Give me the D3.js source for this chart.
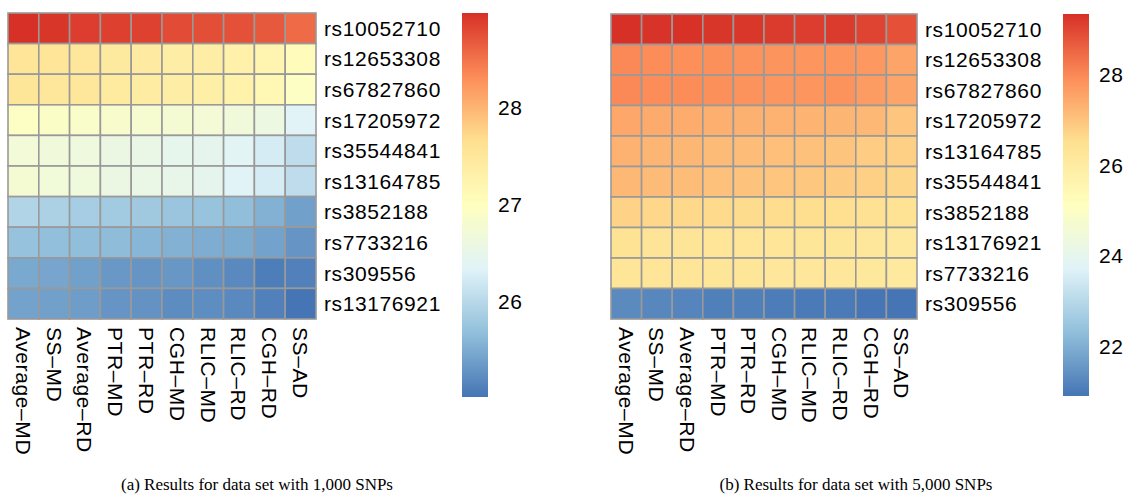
<!DOCTYPE html>
<html>
<head>
<meta charset="utf-8">
<script src="https://cdn.jsdelivr.net/npm/d3@7"></script>
<style>
  html, body { margin: 0; padding: 0; background: #fff; }
  svg { display: block; }
  .lab { font-family: "Liberation Sans", Arial, Helvetica, sans-serif; font-size: 21px; letter-spacing: 0.6px; fill: #000; }
  .cap { font-family: "Liberation Serif", "Times New Roman", serif; font-size: 17px; fill: #000; }
</style>
</head>
<body>
<svg id="chart" width="1126" height="497"></svg>
<script>
// Method labels (columns) for each panel
const methodsA = ["Average–MD", "SS–MD", "Average–RD", "PTR–MD", "PTR–RD", "CGH–MD", "RLIC–MD", "RLIC–RD", "CGH–RD", "SS–AD"];
const methodsB = ["Average–MD", "SS–MD", "Average–RD", "PTR–MD", "PTR–RD", "CGH–MD", "RLIC–MD", "RLIC–RD", "CGH–RD", "SS–AD"];

// SNP labels (rows)
const snpsA = ["rs10052710", "rs12653308", "rs67827860", "rs17205972", "rs35544841", "rs13164785", "rs3852188", "rs7733216", "rs309556", "rs13176921"];
const snpsB = ["rs10052710", "rs12653308", "rs67827860", "rs17205972", "rs13164785", "rs35544841", "rs3852188", "rs13176921", "rs7733216", "rs309556"];

// Scores, one row per SNP, one value per method — data set with 1,000 SNPs
const valuesA = [
  [28.97, 28.93, 28.88, 28.86, 28.85, 28.78, 28.76, 28.74, 28.68, 28.55],
  [27.55, 27.55, 27.52, 27.45, 27.42, 27.38, 27.36, 27.30, 27.20, 27.05],
  [27.53, 27.52, 27.50, 27.43, 27.40, 27.36, 27.33, 27.28, 27.15, 26.95],
  [26.95, 26.90, 26.87, 26.84, 26.80, 26.76, 26.74, 26.68, 26.60, 26.35],
  [26.72, 26.68, 26.65, 26.58, 26.55, 26.48, 26.45, 26.38, 26.25, 26.05],
  [26.76, 26.70, 26.66, 26.58, 26.55, 26.50, 26.45, 26.35, 26.25, 26.05],
  [25.95, 25.90, 25.85, 25.82, 25.80, 25.76, 25.73, 25.68, 25.55, 25.40],
  [25.72, 25.69, 25.68, 25.65, 25.60, 25.55, 25.52, 25.50, 25.42, 25.30],
  [25.48, 25.45, 25.40, 25.33, 25.30, 25.32, 25.25, 25.20, 25.10, 25.12],
  [25.42, 25.40, 25.38, 25.30, 25.28, 25.23, 25.24, 25.20, 25.12, 25.02]
];

// Scores — data set with 5,000 SNPs
const valuesB = [
  [29.34, 29.30, 29.32, 29.25, 29.24, 29.18, 29.15, 29.18, 29.05, 28.85],
  [28.00, 27.95, 27.90, 27.88, 27.85, 27.82, 27.80, 27.80, 27.75, 27.55],
  [28.00, 27.95, 27.95, 27.88, 27.85, 27.80, 27.80, 27.85, 27.70, 27.55],
  [27.50, 27.42, 27.40, 27.35, 27.33, 27.30, 27.28, 27.25, 27.20, 26.98],
  [27.30, 27.25, 27.22, 27.15, 27.12, 27.08, 27.05, 27.00, 26.85, 26.80],
  [27.20, 27.15, 27.12, 27.05, 27.02, 26.98, 26.95, 26.88, 26.80, 26.70],
  [26.75, 26.68, 26.65, 26.62, 26.60, 26.58, 26.56, 26.52, 26.48, 26.38],
  [26.38, 26.35, 26.33, 26.30, 26.30, 26.28, 26.26, 26.25, 26.22, 26.15],
  [26.32, 26.30, 26.28, 26.27, 26.25, 26.24, 26.22, 26.20, 26.18, 26.10],
  [21.30, 21.25, 21.20, 21.10, 21.10, 21.05, 21.00, 21.00, 20.92, 20.90]
];

// Legend tick values
const legendTicksA = [26, 27, 28];
const legendTicksB = [22, 24, 26, 28];

const captionA = "(a) Results for data set with 1,000 SNPs";
const captionB = "(b) Results for data set with 5,000 SNPs";

// Reversed RdYlBu (7 classes), blue = low, red = high
const palette = ["#4575B4", "#91BFDB", "#E0F3F8", "#FFFFBF", "#FEE090", "#FC8D59", "#D73027"];

const svg = d3.select("#chart");
let gradId = 0;

function drawPanel(cfg) {
  const { values, rows, cols, ticks, caption, x0, y0, x1, y1, legendX, legendY0, legendY1, captionX } = cfg;
  const flat = values.flat();
  const vmin = d3.min(flat), vmax = d3.max(flat);

  const color = d3.scaleLinear()
    .domain(palette.map((_, i) => vmin + (vmax - vmin) * i / (palette.length - 1)))
    .range(palette)
    .interpolate(d3.interpolateRgb);

  const xs = d3.scaleBand().domain(d3.range(cols.length)).range([x0, x1]);
  const ys = d3.scaleBand().domain(d3.range(rows.length)).range([y0, y1]);

  const g = svg.append("g");

  // Cells
  const cells = [];
  values.forEach((row, r) => row.forEach((v, c) => cells.push({ r, c, v })));
  g.selectAll("rect.cell").data(cells).join("rect")
    .attr("class", "cell")
    .attr("x", d => xs(d.c))
    .attr("y", d => ys(d.r))
    .attr("width", xs.bandwidth())
    .attr("height", ys.bandwidth())
    .attr("fill", d => color(d.v))
    .attr("stroke", "#999999")
    .attr("stroke-width", 1.6);

  // Row labels
  g.selectAll("text.row").data(rows).join("text")
    .attr("class", "lab")
    .attr("x", x1 + 8)
    .attr("y", (d, i) => ys(i) + ys.bandwidth() / 2)
    .attr("dy", "0.36em")
    .text(d => d);

  // Column labels, rotated to read downward
  g.selectAll("text.col").data(cols).join("text")
    .attr("class", "lab")
    .attr("transform", (d, i) => `translate(${xs(i) + xs.bandwidth() / 2},${y1 + 8}) rotate(90)`)
    .attr("dy", "0.36em")
    .text(d => d);

  // Colour legend
  const id = "grad" + (gradId++);
  const grad = svg.append("defs").append("linearGradient")
    .attr("id", id).attr("x1", 0).attr("y1", 1).attr("x2", 0).attr("y2", 0);
  palette.forEach((p, i) => grad.append("stop")
    .attr("offset", i / (palette.length - 1)).attr("stop-color", p));

  g.append("rect")
    .attr("x", legendX).attr("y", legendY0)
    .attr("width", 26).attr("height", legendY1 - legendY0)
    .attr("fill", `url(#${id})`);

  const ly = d3.scaleLinear().domain([vmin, vmax]).range([legendY1, legendY0]);
  g.selectAll("text.tick").data(ticks).join("text")
    .attr("class", "lab")
    .attr("x", legendX + 36)
    .attr("y", d => ly(d))
    .attr("dy", "0.36em")
    .text(d => d);

  // Caption
  g.append("text")
    .attr("class", "cap")
    .attr("x", captionX)
    .attr("y", 490)
    .attr("text-anchor", "middle")
    .text(caption);
}

drawPanel({
  values: valuesA, rows: snpsA, cols: methodsA, ticks: legendTicksA, caption: captionA,
  x0: 8, x1: 316, y0: 13, y1: 319,
  legendX: 462, legendY0: 13, legendY1: 397, captionX: 257
});

drawPanel({
  values: valuesB, rows: snpsB, cols: methodsB, ticks: legendTicksB, caption: captionB,
  x0: 611, x1: 917, y0: 14, y1: 319,
  legendX: 1063, legendY0: 14, legendY1: 396, captionX: 856
});
</script>
</body>
</html>
